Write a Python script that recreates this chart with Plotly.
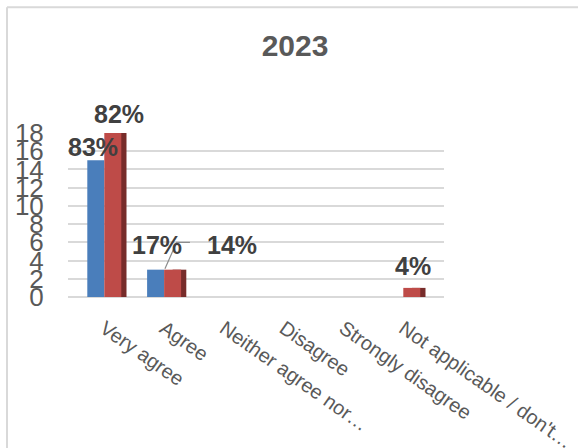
import plotly.graph_objects as go

# Survey responses, 2023
categories = ["Very agree", "Agree", "Neither agree nor\u2026", "Disagree",
              "Strongly disagree", "Not applicable / don't\u2026"]
series_a = [15, 3, 0, 0, 0, 0]
series_b = [18, 3, 0, 0, 0, 1]
labels_a = ["83%", "17%", "", "", "", ""]
labels_b = ["82%", "14%", "", "", "", "4%"]
y_ticks = [0, 2, 4, 6, 8, 10, 12, 14, 16, 18]

BLUE = "#4a7ebb"
RED = "#be4b48"
RED_SIDE = "#772c2a"
GRID = "#d9d9d9"
TEXT = "#595959"
LABEL = "#404040"

# plot-area geometry in pixels
L, R, T, B = 68, 444, 132.7, 296.7
W, H = 578, 448
Y_MAX = 18
cat_px = 59.8
first_center_px = 104.3
x0 = -(first_center_px - L) / cat_px
x1 = x0 + (R - L) / cat_px
bw = 17 / cat_px
side_w = 5.2 / cat_px

xs = list(range(len(categories)))

fig = go.Figure()
# dark side face of the red columns (sits just behind/right of the front face)
fig.add_trace(go.Bar(x=xs, y=series_b, offset=bw * 0.5, width=bw * 0.5 + side_w,
                     marker=dict(color=RED_SIDE, line=dict(width=0)),
                     hoverinfo="skip", showlegend=False))
fig.add_trace(go.Bar(x=xs, y=series_a, offset=-bw, width=bw,
                     marker=dict(color=BLUE, line=dict(width=0)), showlegend=False))
fig.add_trace(go.Bar(x=xs, y=series_b, offset=0, width=bw,
                     marker=dict(color=RED, line=dict(width=0)), showlegend=False))

# data labels: (dx, dy) in pixels from the top-centre of each column;
# vertical placement uses paper units so labels above the top gridline stay visible
offsets_a = {0: (-3, 13), 1: (1, 25)}
offsets_b = {0: (6, 19), 1: (59, 25), 5: (1, 22)}
label_font = dict(family="Liberation Sans, Arial", size=25, color=LABEL, weight="bold")
plot_h = B - T
ann = []
for labels, values, offs, side in ((labels_a, series_a, offsets_a, -1),
                                   (labels_b, series_b, offsets_b, 1)):
    for i, (t, v) in enumerate(zip(labels, values)):
        if t:
            dx, dy = offs[i]
            ann.append(dict(x=i + side * bw / 2 + dx / cat_px,
                            y=v / Y_MAX + dy / plot_h,
                            xref="x", yref="paper", text=t, showarrow=False,
                            xanchor="center", yanchor="middle", font=label_font))

# leader line for the "Agree" label of the second series
lx = 1 + bw * 0.05
ly = series_b[1]
shapes = [dict(type="path", xref="x", yref="y",
               path=f"M {lx},{ly + 0.1} L {lx + 0.195},{ly + 3.0} L {lx + 0.418},{ly + 3.0}",
               line=dict(color="#8c8c8c", width=1.2))]

# outer chart frame (top and left edges)
px2x = lambda p: (p - L) / (R - L)
py2y = lambda p: (B - p) / (B - T)
shapes.append(dict(type="line", xref="paper", yref="paper",
                   x0=px2x(7), x1=px2x(W + 5), y0=py2y(7), y1=py2y(7),
                   line=dict(color=GRID, width=2)))
shapes.append(dict(type="line", xref="paper", yref="paper",
                   x0=px2x(7), x1=px2x(7), y0=py2y(7), y1=py2y(H + 5),
                   line=dict(color=GRID, width=2)))

fig.update_layout(
    width=W, height=H,
    margin=dict(l=L, r=W - R, t=T, b=H - B, pad=0),
    paper_bgcolor="white", plot_bgcolor="white",
    barmode="overlay",
    title=dict(text="<b>2023</b>", xref="container", yref="container",
               x=295 / W, y=1 - 45 / H, xanchor="center", yanchor="middle",
               font=dict(family="Liberation Sans, Arial", size=30, color=TEXT)),
    xaxis=dict(range=[x0, x1], tickmode="array", tickvals=xs, ticktext=categories,
               tickangle=35, showgrid=False, zeroline=False, showline=False,
               automargin=False,
               ticks="outside", ticklen=11, tickcolor="rgba(0,0,0,0)",
               tickfont=dict(family="Liberation Sans, Arial", size=20, color=TEXT)),
    yaxis=dict(range=[0, Y_MAX], tickmode="array", tickvals=y_ticks,
               showgrid=True, gridcolor=GRID, gridwidth=2, automargin=False,
               zeroline=True, zerolinecolor=GRID, zerolinewidth=2, showline=False,
               ticks="outside", ticklen=18, tickcolor="rgba(0,0,0,0)",
               tickfont=dict(family="Liberation Sans Narrow, Liberation Sans, Arial",
                             size=26, color=TEXT)),
    annotations=ann, shapes=shapes,
)

fig.write_html("out.html")
